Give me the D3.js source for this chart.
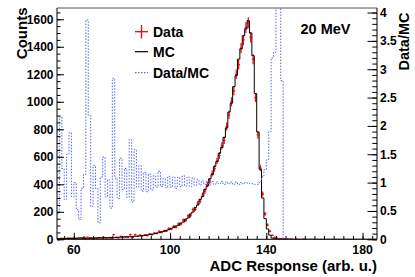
<!DOCTYPE html>
<html>
<head>
<meta charset="utf-8"/>
<script src="https://d3js.org/d3.v7.min.js"></script>
<style>
  body { margin: 0; background: #fff; }
  text { font-family: "Liberation Sans", Arial, Helvetica, sans-serif; font-weight: bold; }
</style>
</head>
<body>
<svg id="chart" width="415" height="277"></svg>
<script>
// histogram bins of 1 ADC unit, lower edges 53 .. 185
const binEdges = d3.range(53, 187);

const dataCounts = [
  5, 7, 6, 4, 8, 9, 6, 7, 5, 4,
  8, 9, 15, 13, 6, 10, 9, 4, 11, 14,
  9, 12, 8, 34, 14, 11, 21, 15, 20, 14,
  34, 14, 34, 22, 31, 24, 33, 27, 39, 33,
  45, 42, 58, 51, 62, 60, 78, 74, 94, 88,
  112, 110, 140, 138, 170, 172, 215, 220, 262, 278,
  322, 350, 398, 425, 478, 515, 570, 610, 680, 720,
  820, 905, 1000, 1080, 1200, 1270, 1390, 1450, 1540, 1575,
  1470, 1310, 1030, 760, 520, 330, 185, 105, 58, 29,
  14, 8, 5, 3, 2, 1, 2, 1, 0, 1,
  0, 0, 1, 0, 0, 0, 0, 0, 0, 0,
  0, 0, 0, 0, 0, 0, 0, 0, 0, 0,
  0, 0, 0, 0, 0, 0, 0, 0, 0, 0,
  0, 0, 0
];

const mcCounts = [
  4, 3, 5, 6, 5, 5, 8, 7, 9, 11,
  9, 8, 4, 6, 10, 8, 10, 13, 10, 10,
  12, 11, 14, 12, 13, 15, 15, 17, 16, 19,
  19, 21, 22, 24, 24, 28, 28, 32, 34, 38,
  40, 46, 48, 55, 58, 66, 70, 80, 85, 97,
  102, 118, 125, 146, 155, 185, 198, 232, 250, 290,
  312, 362, 388, 440, 470, 530, 565, 625, 668, 740,
  810, 925, 990, 1110, 1190, 1310, 1385, 1480, 1530, 1590,
  1500, 1335, 1060, 780, 510, 300, 150, 75, 30, 9,
  4, 1, 1, 1, 0, 0, 0, 0, 0, 0,
  0, 0, 0, 0, 0, 0, 0, 0, 0, 0,
  0, 0, 0, 0, 0, 0, 0, 0, 0, 0,
  0, 0, 0, 0, 0, 0, 0, 0, 0, 0,
  0, 0, 0
];

const ratioValues = [
  0.45, 2.16, 1.25, 0.7, 1.5, 1.88, 0.75, 1.0, 0.52, 0.35,
  0.9, 1.15, 3.87, 2.18, 0.58, 1.3, 0.9, 0.29, 1.1, 1.45,
  0.75, 1.05, 0.55, 2.84, 1.08, 0.72, 1.43, 0.88, 1.25, 0.74,
  1.76, 0.66, 1.58, 0.92, 1.3, 0.85, 1.18, 0.84, 1.15, 0.87,
  1.12, 0.92, 1.2, 0.93, 1.07, 0.91, 1.11, 0.92, 1.1, 0.9,
  1.09, 0.93, 1.12, 0.94, 1.1, 0.93, 1.08, 0.95, 1.05, 0.96,
  1.03, 0.97, 1.03, 0.96, 1.02, 0.97, 1.01, 0.98, 1.02, 0.97,
  1.01, 0.98, 1.01, 0.97, 1.01, 0.97, 1.0, 0.98, 1.0, 0.99,
  0.98, 0.98, 0.97, 0.97, 1.02, 1.1, 1.23, 1.4, 1.9, 3.2,
  3.3, 8, 5, 2.8, 0, 0, 0, 0, 0, 0,
  0, 0, 0, 0, 0, 0, 0, 0, 0, 0,
  0, 0, 0, 0, 0, 0, 0, 0, 0, 0,
  0, 0, 0, 0, 0, 0, 0, 0, 0, 0,
  0, 0, 0
];

const xTicks = [60, 100, 140, 180];
const yTicks = [0, 200, 400, 600, 800, 1000, 1200, 1400, 1600];
const rTicks = [0, 0.5, 1, 1.5, 2, 2.5, 3, 3.5, 4];
const rTickLabels = ["0", "0.5", "1", "1.5", "2", "2.5", "3", "3.5", "4"];

const fLeft = 57, fRight = 377, fTop = 8, fBottom = 239.3;

const svg = d3.select("#chart");

const x = d3.scaleLinear().domain([53, 186]).range([fLeft, fRight]);
const y = d3.scaleLinear().domain([0, 1682]).range([fBottom, fTop]);
const yr = d3.scaleLinear().domain([0, 4.08]).range([fBottom, fTop]);

svg.append("clipPath").attr("id", "frame")
  .append("rect")
  .attr("x", fLeft).attr("y", fTop)
  .attr("width", fRight - fLeft).attr("height", fBottom - fTop);

const plot = svg.append("g").attr("clip-path", "url(#frame)");

// MC histogram
const mcPts = mcCounts.map((v, i) => [binEdges[i], v]);
mcPts.push([binEdges[binEdges.length - 1], mcCounts[mcCounts.length - 1]]);

// data points with error bars
const dataG = plot.append("g").attr("stroke", "#ff0000").attr("stroke-width", 1.2);
dataCounts.forEach((v, i) => {
  if (v <= 0) return;
  const e = Math.sqrt(v);
  dataG.append("line")
    .attr("x1", x(binEdges[i])).attr("x2", x(binEdges[i + 1]))
    .attr("y1", y(v)).attr("y2", y(v));
  dataG.append("line")
    .attr("x1", x(binEdges[i] + 0.5)).attr("x2", x(binEdges[i] + 0.5))
    .attr("y1", y(v - e)).attr("y2", y(v + e));
});

plot.append("path")
  .attr("d", d3.line().curve(d3.curveStepAfter).x(d => x(d[0])).y(d => y(d[1]))(mcPts))
  .attr("fill", "none").attr("stroke", "#000").attr("stroke-width", 1);

// ratio histogram on right axis
const rPts = ratioValues.map((v, i) => [binEdges[i], v]);
rPts.push([binEdges[binEdges.length - 1], ratioValues[ratioValues.length - 1]]);
plot.append("path")
  .attr("d", d3.line().curve(d3.curveStepAfter).x(d => x(d[0])).y(d => yr(d[1]))(rPts))
  .attr("fill", "none").attr("stroke", "#5068ff").attr("stroke-width", 1)
  .attr("stroke-dasharray", "1.5,1.5");

// frame top
svg.append("line").attr("x1", fLeft).attr("x2", fRight).attr("y1", fTop).attr("y2", fTop)
  .attr("stroke", "#555").attr("stroke-width", 1);

// left axis
const yAxis = d3.axisRight(y).tickValues(yTicks).tickSize(7).tickFormat("");
svg.append("g").attr("transform", `translate(${fLeft},0)`).call(yAxis)
  .call(g => g.select(".domain").remove());
const yMinor = d3.axisRight(y).tickValues(d3.range(0, 1681, 50)).tickSize(3.5).tickFormat("");
svg.append("g").attr("transform", `translate(${fLeft},0)`).call(yMinor)
  .call(g => g.select(".domain").remove());
svg.append("line").attr("x1", fLeft).attr("x2", fLeft).attr("y1", fTop).attr("y2", fBottom).attr("stroke", "#000");
svg.append("g").selectAll("text").data(yTicks).join("text")
  .attr("x", fLeft - 3.5).attr("y", d => y(d) + 4.3)
  .attr("text-anchor", "end").attr("font-size", 12).text(d => d);

// bottom axis
const xAxis = d3.axisTop(x).tickValues(xTicks).tickSize(6.5).tickFormat("");
svg.append("g").attr("transform", `translate(0,${fBottom})`).call(xAxis)
  .call(g => g.select(".domain").remove());
const xMinor = d3.axisTop(x).tickValues(d3.range(56, 186, 4)).tickSize(3.3).tickFormat("");
svg.append("g").attr("transform", `translate(0,${fBottom})`).call(xMinor)
  .call(g => g.select(".domain").remove());
svg.append("line").attr("x1", fLeft).attr("x2", fRight).attr("y1", fBottom).attr("y2", fBottom).attr("stroke", "#000");
svg.append("g").selectAll("text").data(xTicks).join("text")
  .attr("x", d => x(d)).attr("y", 253.5)
  .attr("text-anchor", "middle").attr("font-size", 12.3).text(d => d);

// right axis
const rAxis = d3.axisLeft(yr).tickValues(rTicks).tickSize(9.5).tickFormat("");
svg.append("g").attr("transform", `translate(${fRight},0)`).call(rAxis)
  .call(g => g.select(".domain").remove());
const rMinor = d3.axisLeft(yr).tickValues(d3.range(0, 4.05, 0.1)).tickSize(4.7).tickFormat("");
svg.append("g").attr("transform", `translate(${fRight},0)`).call(rMinor)
  .call(g => g.select(".domain").remove());
svg.append("line").attr("x1", fRight).attr("x2", fRight).attr("y1", fTop).attr("y2", fBottom).attr("stroke", "#000");
svg.append("g").selectAll("text").data(rTicks).join("text")
  .attr("x", fRight + 3).attr("y", (d, i) => yr(d) + 4.3)
  .attr("font-size", 12).text((d, i) => rTickLabels[i]);

svg.selectAll(".tick line").attr("stroke", "#000");

// titles
svg.append("text").attr("transform", "translate(27,7.5) rotate(-90)")
  .attr("text-anchor", "end").attr("font-size", 15).text("Counts");
svg.append("text").attr("transform", "translate(409,12.5) rotate(-90)")
  .attr("text-anchor", "end").attr("font-size", 14.5).text("Data/MC");
svg.append("text").attr("x", 377).attr("y", 270.5)
  .attr("text-anchor", "end").attr("font-size", 15).text("ADC Response (arb. u.)");
svg.append("text").attr("x", 300.5).attr("y", 33.5)
  .attr("font-size", 14.5).text("20 MeV");

// legend
const leg = svg.append("g");
leg.append("line").attr("x1", 135).attr("x2", 148).attr("y1", 31.7).attr("y2", 31.7)
  .attr("stroke", "#ff0000").attr("stroke-width", 1.3);
leg.append("line").attr("x1", 141.5).attr("x2", 141.5).attr("y1", 25).attr("y2", 38.5)
  .attr("stroke", "#ff0000").attr("stroke-width", 1.3);
leg.append("text").attr("x", 153).attr("y", 36.5).attr("font-size", 14).text("Data");
leg.append("line").attr("x1", 135).attr("x2", 148).attr("y1", 51.7).attr("y2", 51.7)
  .attr("stroke", "#000").attr("stroke-width", 1.2);
leg.append("text").attr("x", 153).attr("y", 56.5).attr("font-size", 14).text("MC");
leg.append("line").attr("x1", 135).attr("x2", 148).attr("y1", 72.7).attr("y2", 72.7)
  .attr("stroke", "#5068ff").attr("stroke-width", 1.2).attr("stroke-dasharray", "1.5,1.5");
leg.append("text").attr("x", 153).attr("y", 77.5).attr("font-size", 14).text("Data/MC");
</script>
</body>
</html>
